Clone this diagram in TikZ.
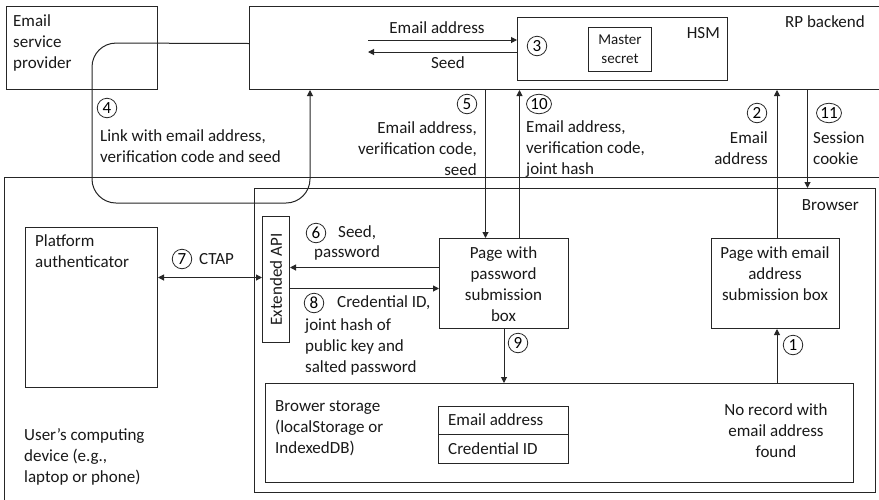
\documentclass[tikz,border=0pt]{standalone}
\usepackage{fontspec}
\setmainfont{Carlito}
\usetikzlibrary{arrows.meta,shapes.geometric}
\begin{document}
\begin{tikzpicture}[x=1pt,y=-1pt,
  box/.style={draw=black!85, line width=1pt, inner sep=0pt, anchor=north west},
  txt/.style={inner sep=0pt, font=\fontsize{17}{21}\selectfont, text=black!90},
  arr/.style={line width=1pt, draw=black!85, -{Triangle[length=6pt,width=6pt]}},
  arrb/.style={line width=1pt, draw=black!85, {Triangle[length=6pt,width=6pt]}-{Triangle[length=6pt,width=6pt]}},
  cn/.style={draw=black!85, circle, line width=0.8pt, inner sep=0pt, minimum size=19.5pt, font=\fontsize{17}{20}\selectfont},
  cnw/.style={draw=black!85, ellipse, line width=0.8pt, inner sep=0pt, minimum width=25pt, minimum height=19.5pt, font=\fontsize{17}{20}\selectfont}]
\useasboundingbox (0,0) rectangle (879,499);
\clip (0,0) rectangle (879,499);
\fill[white] (0,0) rectangle (879,499);

% boxes
\node[box, minimum width=151pt, minimum height=83pt] (esp) at (6,6) {};
\node[box, minimum width=700pt, minimum height=83pt] (rp) at (249,6) {};
\node[box, minimum width=210pt, minimum height=63pt] (hsm) at (517,17) {};
\node[box, minimum width=63pt, minimum height=44pt] (ms) at (588,27) {};
\node[box, minimum width=950pt, minimum height=400pt] (dev) at (4,177) {};
\node[box, minimum width=621pt, minimum height=304pt] (br) at (254,188) {};
\node[box, minimum width=132pt, minimum height=160pt] (pa) at (25,227) {};
\node[box, minimum width=27pt, minimum height=126pt] (api) at (262,216) {};
\node[box, minimum width=129pt, minimum height=90pt] (pw) at (439,238) {};
\node[box, minimum width=128pt, minimum height=90pt] (ep) at (711,238) {};
\node[box, minimum width=588pt, minimum height=99pt] (st) at (265,383) {};
\node[box, minimum width=130pt, minimum height=28pt] (r1) at (438,406) {};
\node[box, minimum width=130pt, minimum height=29pt] (r2) at (438,434) {};

% box texts
\node[txt, anchor=west, align=left] (tesp) at (13,42.5) {Email\\service\\provider};
\node[txt, anchor=east] (trp) at (865,22) {RP backend};
\node[txt, anchor=east] (thsm) at (720,33) {HSM};
\node[txt, align=center, font=\fontsize{15}{19}\selectfont] (tms) at (ms.center) {Master\\secret};
\node[txt, anchor=east] (tbr) at (859,205) {Browser};
\node[txt, anchor=west, align=left] (tpa) at (35,251.5) {Platform\\authenticator};
\node[txt, rotate=90] (tapi) at (api.center) {Extended API};
\node[txt, align=center] (tpw) at (503.5,284) {Page with\\password\\submission\\box};
\node[txt, align=center] (tep) at (775,273.5) {Page with email\\address\\submission box};
\node[txt, anchor=west, align=left] (tst) at (275,428) {Brower storage\\(localStorage or\\IndexedDB)};
\node[txt, anchor=west] (tr1) at (448,420) {Email address};
\node[txt, anchor=west] (tr2) at (448,448.5) {Credential ID};
\node[txt, align=center] (tnr) at (776,431) {No record with\\email address\\found};
\node[txt, anchor=west, align=left] (tdev) at (24,457) {User’s computing\\device (e.g.,\\laptop or phone)};

% HSM exchange
\coordinate (ea) at (368,40);
\coordinate (sd) at (368,52);
\draw[arr] (ea) -- (ea -| hsm.west);
\draw[arr] (sd -| hsm.west) -- (sd);
\node[txt] (tea) at (437,28) {Email address};
\node[txt] (tsd) at (448,63) {Seed};
\node[cn] (c3) at (537,46) {3};

% (4) link via email service provider
\coordinate (p4a) at ([yshift=4.5pt]rp.west);
\coordinate (p4b) at (92,43);
\coordinate (p4c) at (92,203);
\coordinate (p4d) at (310,203);
\draw[arr, rounded corners=24pt] (p4a) -- (p4b) -- (p4c) -- (p4d) -- (p4d |- rp.south);
\node[cn] (c4) at (107,108) {4};
\node[txt, anchor=west, align=left] (t4) at (100,146) {Link with email address,\\verification code and seed};

% (5) and (10)
\coordinate (a5) at ([xshift=-18.5pt]pw.north);
\coordinate (a10) at ([xshift=15.5pt]pw.north);
\draw[arr] (a5 |- rp.south) -- (a5);
\draw[arr] (a10) -- (a10 |- rp.south);
\node[cn] (c5) at (467,104) {5};
\node[txt, anchor=east, align=right] (t5) at (477,149) {Email address,\\verification code,\\seed};
\node[cnw] (c10) at (539,104) {10};
\node[txt, anchor=west, align=left] (t10) at (526,149) {Email address,\\verification code,\\joint hash};

% (2) and (11)
\coordinate (a2) at ([xshift=1.5pt]ep.north);
\coordinate (a11) at ([xshift=32pt]ep.north);
\draw[arr] (a2) -- (a2 |- rp.south);
\draw[arr] (a11 |- rp.south) -- (a11 |- br.north);
\node[cn] (c2) at (757,113) {2};
\node[txt, anchor=east, align=right] (t2) at (768,148) {Email\\address};
\node[cnw] (c11) at (829,113) {11};
\node[txt, anchor=west, align=left] (t11) at (813,148) {Session\\cookie};

% (7) CTAP
\coordinate (a7) at ([yshift=2pt]api.west);
\draw[arrb] (a7 -| pa.east) -- (a7);
\node[cn] (c7) at (182,259) {7};
\node[txt, anchor=west] (t7) at (199,259) {CTAP};

% (6) and (8)
\coordinate (a6) at ([yshift=16pt]pw.west);
\coordinate (a8) at ([yshift=-5pt]pw.west);
\draw[arr] (a6) -- (a6 -| api.east);
\draw[arr] (a8 -| api.east) -- (a8);
\node[cn] (c6) at (316,233) {6};
\node[txt, anchor=west] (t6a) at (338,233) {Seed,};
\node[txt, anchor=west] (t6b) at (314,253) {password};
\node[cn] (c8) at (314,303) {8};
\node[txt, anchor=west] (t8a) at (337,303) {Credential ID,};
\node[txt, anchor=west, align=left] (t8b) at (305,346.5) {joint hash of\\public key and\\salted password};

% (9) and (1)
\draw[arr] (pw.south) -- (pw.south |- st.north);
\draw[arr] ([xshift=1.5pt]ep.south |- st.north) -- ([xshift=1.5pt]ep.south);
\node[cn] (c9) at (518,343) {9};
\node[cn] (c1) at (793,345) {1};
\end{tikzpicture}
\end{document}
